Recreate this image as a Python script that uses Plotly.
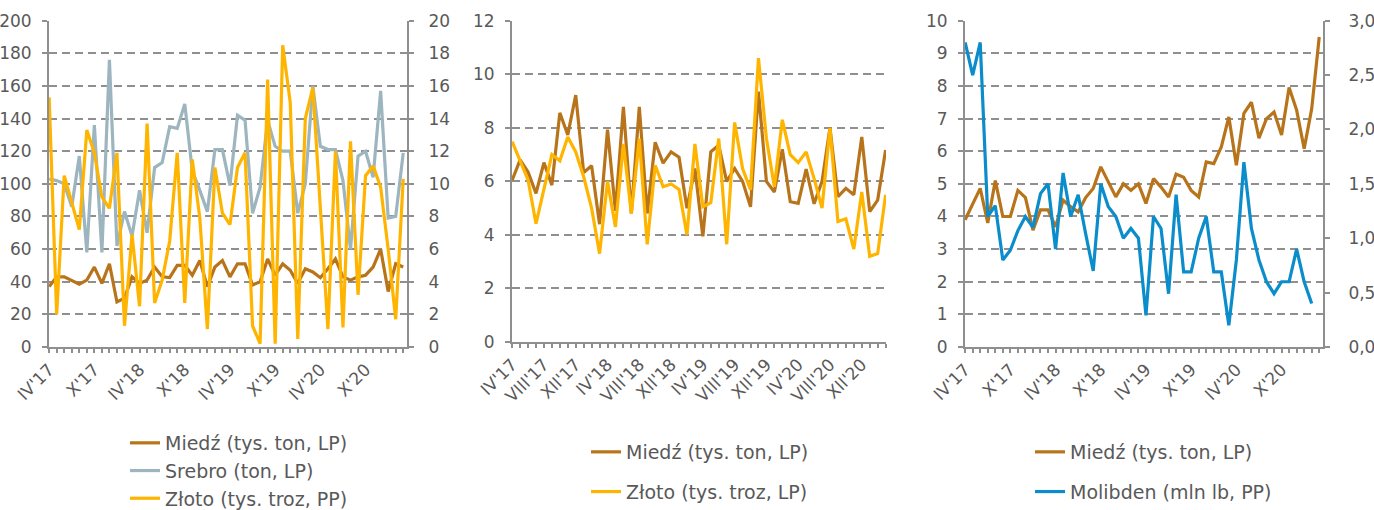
import plotly.graph_objects as go

# ---------------- data ----------------
ROMAN = ["I", "II", "III", "IV", "V", "VI", "VII", "VIII", "IX", "X", "XI", "XII"]
months = [f"{ROMAN[(3 + k) % 12]}'{17 + (3 + k) // 12}" for k in range(48)]  # IV'17 .. III'21
ticktext_6 = [m if k % 6 == 0 else "" for k, m in enumerate(months)]
ticktext_4 = [m if k % 4 == 0 else "" for k, m in enumerate(months)]

# Panel 1
copper1 = [37, 43, 43, 41, 38.5, 41, 49, 39, 51, 27.6, 30, 43, 39, 41, 49, 43, 42.5, 50, 50, 44,
           53, 37, 49, 53, 43, 51, 51, 38, 40, 54, 44, 51, 47, 39, 48, 46, 42.5, 48, 54, 43,
           41, 43, 44, 49, 60, 34, 51, 49]
silver1 = [103, 102, 100, 86, 117, 58, 136, 58, 176, 62, 83, 68, 96, 70, 110, 113, 135, 134, 149, 108,
           96, 83, 121, 121, 99, 142, 139, 82, 98, 139, 123, 120, 120, 82, 100, 160, 123, 121, 121, 102,
           60, 117, 120, 104, 157, 79, 80, 119]
gold1 = [15.3, 2.0, 10.5, 8.8, 7.2, 13.3, 11.9, 9.2, 8.5, 11.9, 1.3, 6.9, 2.5, 13.7, 2.7, 4.1, 6.5, 11.9, 2.7, 11.5,
         7.9, 1.1, 11.0, 8.2, 7.5, 11.0, 11.9, 1.3, 0.2, 16.4, 0.2, 18.5, 15.0, 0.5, 14.0, 15.9, 8.3, 1.1, 12.0, 1.2,
         12.6, 3.2, 10.5, 11.1, 9.8, 6.0, 1.7, 10.3]

# Panel 2
copper2 = [6.04, 6.8, 6.35, 5.55, 6.7, 5.86, 8.56, 7.73, 9.22, 6.33, 6.58, 4.4, 7.93, 4.9, 8.78, 4.8, 8.78, 4.8, 7.46, 6.68,
           7.1, 6.9, 5.0, 6.48, 3.95, 7.1, 7.35, 6.0, 6.48, 6.0, 5.05, 9.35, 6.0, 5.6, 7.2, 5.24, 5.18, 6.46, 5.16, 6.0,
           8.0, 5.43, 5.74, 5.5, 7.66, 4.87, 5.3, 7.17]
gold2 = [7.48, 6.8, 6.05, 4.42, 5.67, 7.0, 6.77, 7.66, 7.1, 6.17, 5.0, 3.3, 6.0, 4.3, 7.4, 4.8, 7.6, 3.65, 6.6, 5.8,
         5.9, 5.7, 4.0, 7.4, 5.05, 5.2, 7.6, 3.65, 8.2, 6.48, 5.68, 10.6, 7.6, 5.8, 8.3, 7.0, 6.7, 7.1, 6.1, 5.0,
         8.0, 4.5, 4.6, 3.47, 5.6, 3.2, 3.3, 5.5]

# Panel 3
copper3 = [3.9, 4.4, 4.86, 3.8, 5.1, 4.0, 4.0, 4.8, 4.58, 3.58, 4.2, 4.2, 3.68, 4.5, 4.3, 4.14, 4.58, 4.86, 5.52, 5.06,
           4.6, 5.0, 4.8, 5.0, 4.4, 5.16, 4.9, 4.6, 5.3, 5.2, 4.8, 4.6, 5.67, 5.62, 6.13, 7.05, 5.57, 7.16, 7.5, 6.4,
           7.0, 7.2, 6.5, 7.95, 7.26, 6.08, 7.3, 9.5]
moly3 = [2.8, 2.5, 2.8, 1.2, 1.3, 0.8, 0.89, 1.07, 1.2, 1.1, 1.41, 1.5, 0.9, 1.6, 1.2, 1.4, 1.04, 0.7, 1.5, 1.29,
         1.2, 1.0, 1.09, 1.0, 0.29, 1.2, 1.09, 0.49, 1.4, 0.69, 0.69, 1.0, 1.2, 0.69, 0.69, 0.2, 0.8, 1.7, 1.09, 0.8,
         0.6, 0.49, 0.6, 0.6, 0.9, 0.6, 0.4, None]

left1_ticks = list(range(0, 201, 20))
right1_ticks = list(range(0, 21, 2))
left2_ticks = list(range(0, 13, 2))
left3_ticks = list(range(0, 11, 1))
right3_ticks = [0, 0.5, 1.0, 1.5, 2.0, 2.5, 3.0]
right3_text = ["0,0", "0,5", "1,0", "1,5", "2,0", "2,5", "3,0"]

# ---------------- style ----------------
W, H = 1374, 510
C_COPPER = "#B8741A"
C_SILVER = "#9DB5BE"
C_GOLD = "#FFB400"
C_MOLY = "#0B8DCB"
AX = "#8f8f8f"
TXT = "#595959"
FONT = "DejaVu Sans"
FS = 17      # tick labels
FSL = 19     # legend text
LW = 3.2


def px_x(a, b):
    return [a / W, b / W]


def px_y(top, bottom):
    return [1 - bottom / H, 1 - top / H]


fig = go.Figure()

# Panel 1
fig.add_trace(go.Scatter(x=months, y=copper1, name="Miedź (tys. ton, LP)", mode="lines",
                         line=dict(color=C_COPPER, width=LW), xaxis="x", yaxis="y",
                         legend="legend", legendgroup="p1a"))
fig.add_trace(go.Scatter(x=months, y=silver1, name="Srebro (ton, LP)", mode="lines",
                         line=dict(color=C_SILVER, width=LW), xaxis="x", yaxis="y",
                         legend="legend", legendgroup="p1b"))
fig.add_trace(go.Scatter(x=months, y=gold1, name="Złoto (tys. troz, PP)", mode="lines",
                         line=dict(color=C_GOLD, width=LW), xaxis="x", yaxis="y2",
                         legend="legend", legendgroup="p1c"))
# Panel 2
fig.add_trace(go.Scatter(x=months, y=copper2, name="Miedź (tys. ton, LP)", mode="lines",
                         line=dict(color=C_COPPER, width=LW), xaxis="x2", yaxis="y3",
                         legend="legend2", legendgroup="p2a"))
fig.add_trace(go.Scatter(x=months, y=gold2, name="Złoto (tys. troz, LP)", mode="lines",
                         line=dict(color=C_GOLD, width=LW), xaxis="x2", yaxis="y3",
                         legend="legend2", legendgroup="p2b"))
# Panel 3
fig.add_trace(go.Scatter(x=months, y=copper3, name="Miedź (tys. ton, LP)", mode="lines",
                         line=dict(color=C_COPPER, width=LW), xaxis="x3", yaxis="y4",
                         legend="legend3", legendgroup="p3a"))
fig.add_trace(go.Scatter(x=months, y=moly3, name="Molibden (mln lb, PP)", mode="lines",
                         line=dict(color=C_MOLY, width=LW), xaxis="x3", yaxis="y5",
                         legend="legend3", legendgroup="p3b"))


def xaxis(dom, ticktext, anchor, rng):
    return dict(domain=dom, anchor=anchor, type="category", categoryorder="array",
                categoryarray=months, range=rng, tickmode="array", tickvals=months,
                ticktext=ticktext, tickangle=-45, ticks="outside", ticklen=4, tickwidth=1.5,
                tickcolor=AX, showline=True, linecolor=AX, linewidth=2, showgrid=False,
                zeroline=False, automargin=False,
                tickfont=dict(size=FS, color=TXT, family=FONT), fixedrange=True)


def yleft(dom, anchor, tickvals, rng):
    return dict(domain=dom, anchor=anchor, range=rng, tickmode="array", tickvals=tickvals,
                ticks="outside", ticklen=5, tickwidth=1.5, tickcolor=AX, showline=True,
                linecolor=AX, linewidth=2, showgrid=True, gridcolor=AX, gridwidth=2,
                griddash="8px,5px", zeroline=False, ticklabelstandoff=7, automargin=False,
                tickfont=dict(size=FS, color=TXT, family=FONT), fixedrange=True)


def yright(overlay, anchor, tickvals, rng, standoff, ticktext=None):
    d = dict(overlaying=overlay, anchor=anchor, side="right", range=rng, tickmode="array",
             tickvals=tickvals, ticks="outside", ticklen=5, tickwidth=1.5, tickcolor=AX,
             showline=True, linecolor=AX, linewidth=2, showgrid=False, zeroline=False,
             ticklabelstandoff=standoff, automargin=False,
             tickfont=dict(size=FS, color=TXT, family=FONT), fixedrange=True)
    if ticktext is not None:
        d["ticktext"] = ticktext
    return d


def legend(x, y, gap):
    return dict(x=x, y=y, xanchor="left", yanchor="top", orientation="v",
                font=dict(size=FSL, color=TXT, family=FONT), bgcolor="rgba(0,0,0,0)",
                tracegroupgap=gap, traceorder="grouped", itemclick=False, itemdoubleclick=False)


fig.update_layout(
    template="none",
    width=W, height=H,
    margin=dict(l=0, r=0, t=0, b=0, autoexpand=False),
    paper_bgcolor="white", plot_bgcolor="white",
    font=dict(family=FONT, size=FS, color=TXT),
    showlegend=True,
    xaxis=xaxis(px_x(49, 407), ticktext_6, "y", [-0.02, 47.5]),
    yaxis=yleft(px_y(20.7, 347), "x", left1_ticks, [0, 200]),
    yaxis2=yright("y", "x", right1_ticks, [0, 20], 11),
    xaxis2=xaxis(px_x(512, 886), ticktext_4, "y3", [-0.02, 47.05]),
    yaxis3=yleft(px_y(20.7, 342), "x2", left2_ticks, [0, 12]),
    xaxis3=xaxis(px_x(965, 1323), ticktext_6, "y4", [-0.02, 47.5]),
    yaxis4=yleft(px_y(20.7, 347), "x3", left3_ticks, [0, 10]),
    yaxis5=yright("y4", "x3", right3_ticks, [0, 3], 15, right3_text),
    legend=legend(125 / W, 1 - 424 / H, 0),
    legend2=legend(586 / W, 1 - 433 / H, 12),
    legend3=legend(1030 / W, 1 - 433 / H, 12),
)

fig.write_html("out.html", config={"displayModeBar": False},
               post_script="document.body.style.margin='0px';")
